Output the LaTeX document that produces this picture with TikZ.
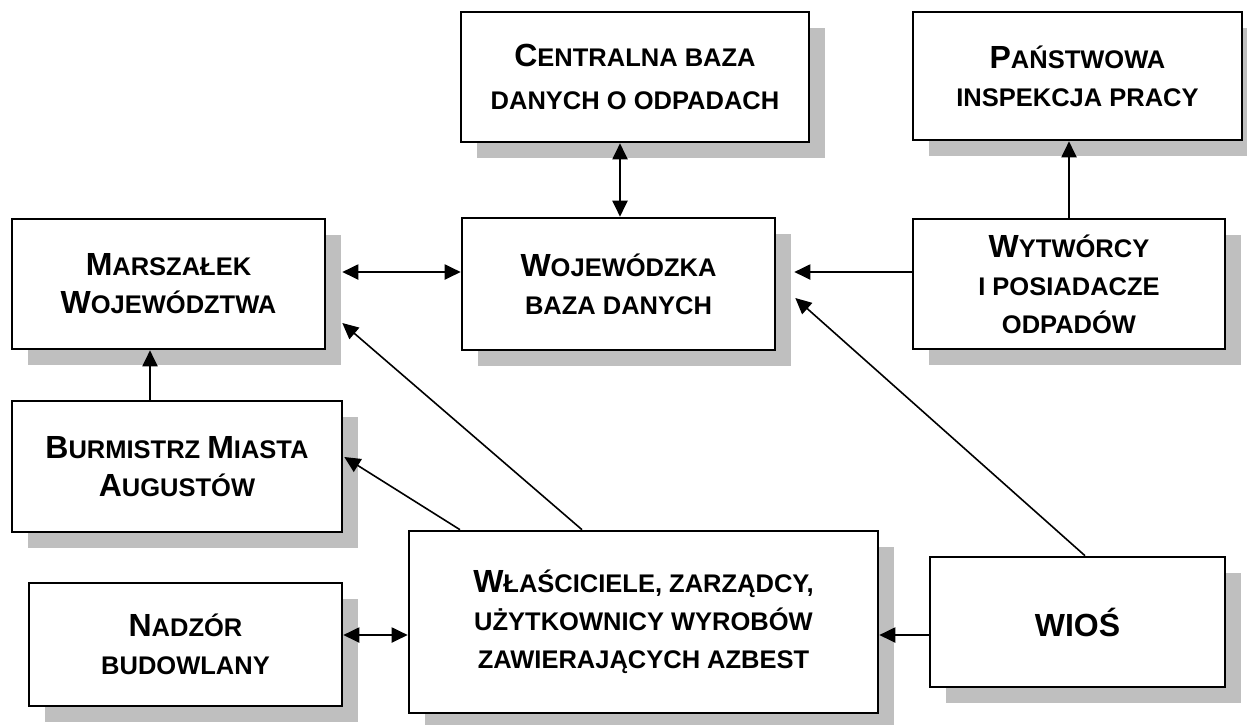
\documentclass[tikz,border=0pt]{standalone}
\usepackage{fontspec}
\setmainfont{Liberation Sans}
\usetikzlibrary{arrows.meta,shadows}
\newcommand\Bg[1]{{\fontsize{32}{38}\selectfont #1}}
\begin{document}
\begin{tikzpicture}[x=1pt,y=-1pt,
  box/.style={draw, line width=2.6pt, fill=white, align=center, inner sep=0pt,
    font=\fontsize{25.5}{38}\selectfont\bfseries,
    drop shadow={shadow xshift=16pt, shadow yshift=-16pt, fill=black!25, opacity=1}},
  con/.style={line width=2pt, -{Triangle[length=16pt,width=15pt]}},
  diag/.style={line width=1.6pt, -{Triangle[length=16pt,width=15pt]}},
  bicon/.style={line width=2pt, {Triangle[length=16pt,width=15pt]}-{Triangle[length=16pt,width=15pt]}}]
\useasboundingbox (0,0) rectangle (1247,724);

\node[box, minimum width=348pt, minimum height=130pt, font=\fontsize{25.5}{43}\selectfont\bfseries] (cent) at (635,77) {\Bg{C}ENTRALNA BAZA\\DANYCH O ODPADACH};
\node[box, minimum width=329pt, minimum height=128pt] (pans) at (1077.5,76) {\Bg{P}AŃSTWOWA\\INSPEKCJA PRACY};
\node[box, minimum width=313pt, minimum height=130pt] (mar) at (168.5,284) {\Bg{M}ARSZAŁEK\\\Bg{W}OJEWÓDZTWA};
\node[box, minimum width=313pt, minimum height=132pt] (woj) at (618.5,284) {\Bg{W}OJEWÓDZKA\\BAZA DANYCH};
\node[box, minimum width=312pt, minimum height=130pt] (wyt) at (1069,284) {\Bg{W}YTWÓRCY\\I POSIADACZE\\ODPADÓW};
\node[box, minimum width=330pt, minimum height=131pt] (bur) at (177,466.5) {\Bg{B}URMISTRZ \Bg{M}IASTA\\\Bg{A}UGUSTÓW};
\node[box, minimum width=313pt, minimum height=123pt] (nad) at (185.5,644.5) {\Bg{N}ADZÓR\\BUDOWLANY};
\node[box, minimum width=469pt, minimum height=182pt] (wl) at (643.5,622) {\Bg{W}ŁAŚCICIELE, ZARZĄDCY,\\UŻYTKOWNICY WYROBÓW\\ZAWIERAJĄCYCH AZBEST};
\node[box, minimum width=295pt, minimum height=130pt] (wios) at (1077.5,622) {\Bg{WIOŚ}};

% connectors
\draw[bicon] ([xshift=1.5pt]woj.north) -- ([xshift=1.5pt]woj.north |- cent.south);
\draw[con] (wyt.north) -- (wyt.north |- pans.south);
\draw[bicon] ([xshift=16pt,yshift=12pt]mar.east) -- ([yshift=12pt]woj.west);
\draw[con] ([yshift=12pt]wyt.west) -- ([xshift=18pt,yshift=12pt]woj.east);
\draw[con] ([xshift=-27pt]bur.north) -- ([xshift=-18.5pt]mar.south);
\draw[diag] ([xshift=-61.5pt]wl.north) -- ([xshift=16pt,yshift=-39pt]mar.east);
\draw[diag] ([xshift=-183.5pt]wl.north) -- ([xshift=1pt,yshift=9.5pt]bur.east);
\draw[diag] ([xshift=7.5pt]wios.north) -- ([xshift=19pt,yshift=-14pt]woj.east);
\draw[bicon] ([yshift=9.5pt]nad.east) -- ([yshift=-13pt]wl.west);
\draw[con] ([yshift=-13pt]wios.west) -- ([yshift=-13pt]wl.east);
\end{tikzpicture}
\end{document}
